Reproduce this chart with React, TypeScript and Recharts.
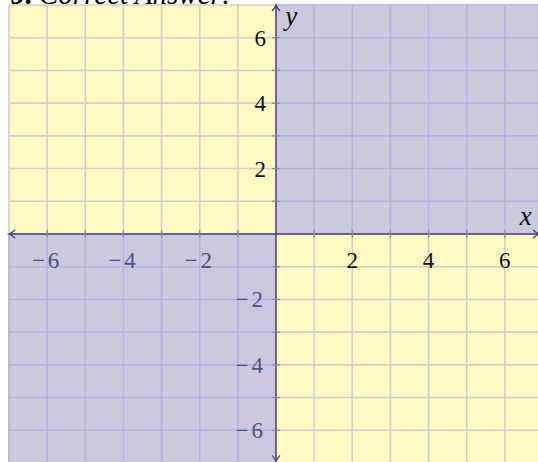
import {
	CartesianGrid,
	ComposedChart,
	ReferenceArea,
	ReferenceDot,
	ReferenceLine,
	XAxis,
	YAxis,
} from "recharts";

const DOMAIN: [number, number] = [-7, 7];
const gridValues = [-7, -6, -5, -4, -3, -2, -1, 0, 1, 2, 3, 4, 5, 6, 7];
const xTickValues = [-6, -4, -2, 2, 4, 6];
const yTickValues = [-6, -4, -2, 2, 4, 6];
const tickMarkValues = [-6, -5, -4, -3, -2, -1, 1, 2, 3, 4, 5, 6];
const shadedQuadrants = [
	{ x1: 0, x2: 7, y1: 0, y2: 7 },
	{ x1: -7, x2: 0, y1: -7, y2: 0 },
];
const axisEnds = { left: -7, right: 6.9, top: 7, bottom: -6.95 };

const YELLOW = "#fff9c4";
const PURPLE = "#ccc9df";
const GRID_GRAY = "#d0cfca";
const GRID_BLUE = "#b4b3e2";
const AXIS = "#3e3e78";
const LABEL_DARK = "#111111";
const LABEL_PURPLE = "#50508a";
const FONT = "Liberation Serif, Times New Roman, serif";

function formatNum(v: number): string {
	return v < 0 ? `\u2212${Math.abs(v)}` : `${v}`;
}

const labelStyle = { fontFamily: FONT, fontSize: 23 };

function XTick(props: any) {
	const { cx, cy, value } = props;
	return (
		<text
			x={cx}
			y={cy + 34}
			textAnchor="middle"
			style={{ ...labelStyle, letterSpacing: value < 0 ? 3 : 0 }}
			fill={value < 0 ? LABEL_PURPLE : LABEL_DARK}
		>
			{formatNum(value)}
		</text>
	);
}

function YTick(props: any) {
	const { cx, cy, value } = props;
	return (
		<text
			x={cx - 10}
			y={cy + 8}
			textAnchor="end"
			style={{ ...labelStyle, letterSpacing: value < 0 ? 3 : 0 }}
			fill={value < 0 ? LABEL_PURPLE : LABEL_DARK}
		>
			{formatNum(value)}
		</text>
	);
}

function HMark(props: any) {
	const { cx, cy } = props;
	return <line x1={cx} x2={cx} y1={cy - 4} y2={cy + 4} stroke="#8c8c96" strokeWidth={1.2} />;
}

function VMark(props: any) {
	const { cx, cy } = props;
	return <line x1={cx - 4} x2={cx + 4} y1={cy} y2={cy} stroke="#8c8c96" strokeWidth={1.2} />;
}

function Arrow(dir: "left" | "right" | "up" | "down") {
	return (props: any) => {
		const { cx, cy } = props;
		const s = dir === "left" || dir === "up" ? 1 : -1;
		const d =
			dir === "left" || dir === "right"
				? `M${cx + s * 6},${cy - 4} Q${cx + s * 2},${cy - 0.6} ${cx},${cy} Q${cx + s * 2},${cy + 0.6} ${cx + s * 6},${cy + 4}`
				: `M${cx - 4},${cy + s * 6} Q${cx - 0.6},${cy + s * 2} ${cx},${cy} Q${cx + 0.6},${cy + s * 2} ${cx + 4},${cy + s * 6}`;
		return <path d={d} fill="none" stroke={AXIS} strokeWidth={1.3} />;
	};
}

function AxisName(props: any) {
	const { cx, cy, name } = props;
	return (
		<text
			x={cx}
			y={cy}
			textAnchor="middle"
			style={{ fontFamily: FONT, fontStyle: "italic", fontSize: 27 }}
			fill={LABEL_DARK}
		>
			{name}
		</text>
	);
}

export default function App() {
	const blueSegments = shadedQuadrants.flatMap((q, qi) => [
		...gridValues
			.filter((v) => v !== 0 && v >= q.x1 && v <= q.x2)
			.map((v) => ({
				key: `v${qi}${v}`,
				segment: [
					{ x: v, y: q.y1 },
					{ x: v, y: q.y2 },
				],
			})),
		...gridValues
			.filter((v) => v !== 0 && v >= q.y1 && v <= q.y2)
			.map((v) => ({
				key: `h${qi}${v}`,
				segment: [
					{ x: q.x1, y: v },
					{ x: q.x2, y: v },
				],
			})),
	]);

	return (
		<div
			style={{
				position: "fixed",
				left: 0,
				top: 0,
				width: 538,
				height: 462,
				overflow: "hidden",
				background: "#ffffff",
			}}
		>
			<ComposedChart
				width={560}
				height={480}
				margin={{ top: 5, right: 17, bottom: 17, left: 9 }}
				style={{ position: "absolute", left: 0, top: 0 }}
			>
				<XAxis type="number" dataKey="x" domain={DOMAIN} hide allowDataOverflow />
				<YAxis type="number" dataKey="y" domain={DOMAIN} hide allowDataOverflow />
				<CartesianGrid
					fill={YELLOW}
					fillOpacity={1}
					stroke={GRID_GRAY}
					strokeWidth={1.6}
					horizontalValues={gridValues}
					verticalValues={gridValues}
				/>
				{shadedQuadrants.map((q, i) => (
					<ReferenceArea
						key={`q${i}`}
						x1={q.x1}
						x2={q.x2}
						y1={q.y1}
						y2={q.y2}
						fill={PURPLE}
						fillOpacity={1}
						stroke="none"
					/>
				))}
				{blueSegments.map((s) => (
					<ReferenceLine
						key={s.key}
						segment={s.segment}
						stroke={GRID_BLUE}
						strokeWidth={1.6}
					/>
				))}
				<ReferenceLine
					segment={[
						{ x: axisEnds.left, y: 0 },
						{ x: axisEnds.right, y: 0 },
					]}
					stroke={AXIS}
					strokeWidth={1.4}
				/>
				<ReferenceLine
					segment={[
						{ x: 0, y: axisEnds.bottom },
						{ x: 0, y: axisEnds.top },
					]}
					stroke={AXIS}
					strokeWidth={1.4}
				/>
				{tickMarkValues.map((v) => (
					<ReferenceDot key={`tx${v}`} x={v} y={0} r={0} shape={HMark} />
				))}
				{tickMarkValues.map((v) => (
					<ReferenceDot key={`ty${v}`} x={0} y={v} r={0} shape={VMark} />
				))}
				{xTickValues.map((v) => (
					<ReferenceDot
						key={`lx${v}`}
						x={v}
						y={0}
						r={0}
						shape={(p: any) => <XTick {...p} value={v} />}
					/>
				))}
				{yTickValues.map((v) => (
					<ReferenceDot
						key={`ly${v}`}
						x={0}
						y={v}
						r={0}
						shape={(p: any) => <YTick {...p} value={v} />}
					/>
				))}
				<ReferenceDot x={axisEnds.left} y={0} r={0} shape={Arrow("left")} ifOverflow="visible" />
				<ReferenceDot x={axisEnds.right} y={0} r={0} shape={Arrow("right")} ifOverflow="visible" />
				<ReferenceDot x={0} y={axisEnds.top} r={0} shape={Arrow("up")} ifOverflow="visible" />
				<ReferenceDot x={0} y={axisEnds.bottom} r={0} shape={Arrow("down")} ifOverflow="visible" />
				<ReferenceDot
					x={6.55}
					y={0.27}
					r={0}
					shape={(p: any) => <AxisName {...p} name="x" />}
				/>
				<ReferenceDot
					x={0.4}
					y={6.4}
					r={0}
					shape={(p: any) => <AxisName {...p} name="y" />}
				/>
			</ComposedChart>
			<div
				style={{
					position: "absolute",
					left: 10,
					top: -20,
					fontFamily: FONT,
					fontSize: 29,
					lineHeight: "29px",
					whiteSpace: "nowrap",
					color: "#000",
				}}
			>
				<b>9.</b> <i>Correct Answer:</i>
			</div>
		</div>
	);
}
